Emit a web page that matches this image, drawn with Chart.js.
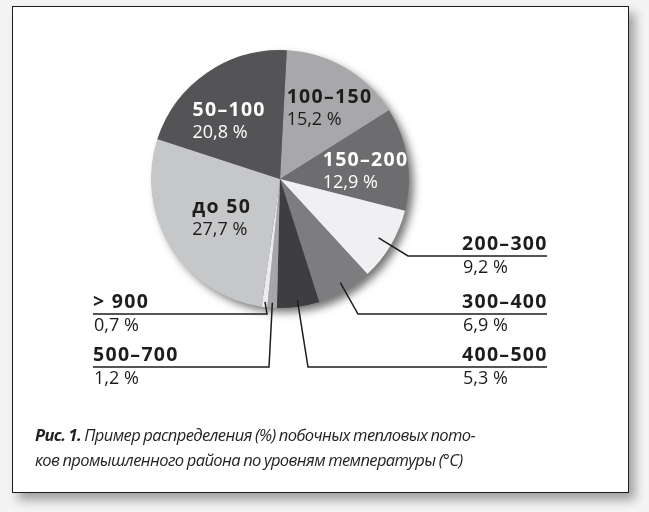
<!DOCTYPE html>
<html>
<head>
<meta charset="utf-8">
<script src="https://cdn.jsdelivr.net/npm/chart.js@4.4.0/dist/chart.umd.min.js"></script>
<style>
  html, body { margin: 0; padding: 0; background: #f4f4f4; }
  #wrap { position: relative; width: 649px; height: 512px; overflow: hidden; }
  #frame {
    position: absolute; left: 12px; top: 6px; width: 617px; height: 487px;
    box-sizing: border-box; border: 1.5px solid #1d1d1d; background: #fff;
    box-shadow: 6px 7px 10px rgba(0, 0, 0, 0.35);
  }
  #chart { position: absolute; left: 0; top: 0; }
  #caption {
    position: absolute; left: 35px; top: 422px; width: 580px;
    font-family: "Open Sans", sans-serif; font-style: italic; font-size: 16.5px;
    line-height: 25px; color: #231f20; letter-spacing: -0.6px; word-spacing: -0.5px;
  }
  #caption b { font-weight: 700; }
</style>
</head>
<body>
<div id="wrap">
  <div id="frame"></div>
  <canvas id="chart" width="649" height="512"></canvas>
  <div id="caption"><b>Рис. 1.</b> Пример распределения (%) побочных тепловых пото-<br>ков промышленного района по уровням температуры (°C)</div>
</div>
<script>
// данные диаграммы
var categories = ['100–150', '150–200', '200–300', '300–400', '400–500', '500–700', '> 900', 'до 50', '50–100'];
var shares = [15.2, 12.9, 9.2, 6.9, 5.3, 1.2, 0.7, 27.7, 20.8];
var sliceColors = ['#a8a8ab', '#6d6d70', '#f0f0f2', '#7d7d80', '#3e3e41', '#a6a6a9', '#ececee', '#c6c7c9', '#545457'];

// подписи внутри секторов: сдвиг от центра сектора
var insideLabels = {
  '100–150': { dx: -26, dy: -20, color: '#1f1c1d' },
  '150–200': { dx: -21, dy: -3, color: '#ffffff' },
  'до 50':   { dx: -33, dy: 0, color: '#1f1c1d' },
  '50–100':  { dx: -51, dy: -10, color: '#ffffff' }
};

// выноски: линия от сектора к подчёркиванию
var callouts = {
  '200–300': { side: 'right', y: 256, elbow: 408, r: 0.89 },
  '300–400': { side: 'right', y: 314, elbow: 358, r: 0.93 },
  '400–500': { side: 'right', y: 367, elbow: 308, r: 0.95 },
  '> 900':   { side: 'left',  y: 314, elbow: 267, r: 0.96 },
  '500–700': { side: 'left',  y: 367, elbow: 269, r: 0.96 }
};
var rightTextX = 462, rightEnd = 547, leftTextX = 93;

var boldFont = 'bold 19.5px "Open Sans", sans-serif';
var normFont = '18px "Open Sans", sans-serif';

function pct(v) {
  return v.toFixed(1).replace('.', ',') + ' %';
}

function boldText(ctx, s, x, y) {
  ctx.font = boldFont;
  ctx.letterSpacing = '1.3px';
  ctx.fillText(s, x, y);
  ctx.letterSpacing = '0px';
}

var pieShadow = {
  id: 'pieShadow',
  beforeDatasetsDraw: function(chart) {
    var arc = chart.getDatasetMeta(0).data[0];
    var ctx = chart.ctx;
    ctx.save();
    ctx.shadowColor = 'rgba(0,0,0,0.55)';
    ctx.shadowBlur = 9;
    ctx.shadowOffsetX = 5;
    ctx.shadowOffsetY = 5;
    ctx.fillStyle = '#777';
    ctx.beginPath();
    ctx.arc(arc.x, arc.y, arc.outerRadius - 0.5, 0, Math.PI * 2);
    ctx.fill();
    ctx.restore();
  }
};

var sliceLabels = {
  id: 'sliceLabels',
  afterDatasetsDraw: function(chart) {
    var ctx = chart.ctx;
    var meta = chart.getDatasetMeta(0);
    ctx.save();
    ctx.textAlign = 'left';
    ctx.textBaseline = 'alphabetic';
    meta.data.forEach(function(arc, i) {
      var name = categories[i];
      var mid = (arc.startAngle + arc.endAngle) / 2;
      var inL = insideLabels[name];
      if (inL) {
        var p = arc.tooltipPosition();
        ctx.fillStyle = inL.color;
        boldText(ctx, name, p.x + inL.dx, p.y + inL.dy);
        ctx.font = normFont;
        ctx.fillText(pct(shares[i]), p.x + inL.dx, p.y + inL.dy + 22);
        return;
      }
      var c = callouts[name];
      if (!c) return;
      var ax = arc.x + Math.cos(mid) * arc.outerRadius * c.r;
      var ay = arc.y + Math.sin(mid) * arc.outerRadius * c.r;
      var tx = c.side === 'right' ? rightTextX : leftTextX;
      ctx.strokeStyle = '#1f1c1d';
      ctx.lineWidth = 1.5;
      ctx.beginPath();
      ctx.moveTo(ax, ay);
      ctx.lineTo(c.elbow, c.y);
      ctx.lineTo(c.side === 'right' ? rightEnd : leftTextX, c.y);
      ctx.stroke();
      ctx.fillStyle = '#1f1c1d';
      boldText(ctx, name, tx, c.y - 6.5);
      ctx.font = normFont;
      ctx.fillText(pct(shares[i]), tx + 1, c.y + 17);
    });
    ctx.restore();
  }
};

new Chart(document.getElementById('chart'), {
  type: 'pie',
  data: {
    labels: categories,
    datasets: [{
      data: shares,
      backgroundColor: sliceColors,
      borderWidth: 0
    }]
  },
  options: {
    responsive: false,
    animation: false,
    events: [],
    rotation: 3,
    layout: { padding: { left: 151, right: 240, top: 50, bottom: 204 } },
    plugins: {
      legend: { display: false },
      tooltip: { enabled: false }
    }
  },
  plugins: [pieShadow, sliceLabels]
});
</script>
</body>
</html>
